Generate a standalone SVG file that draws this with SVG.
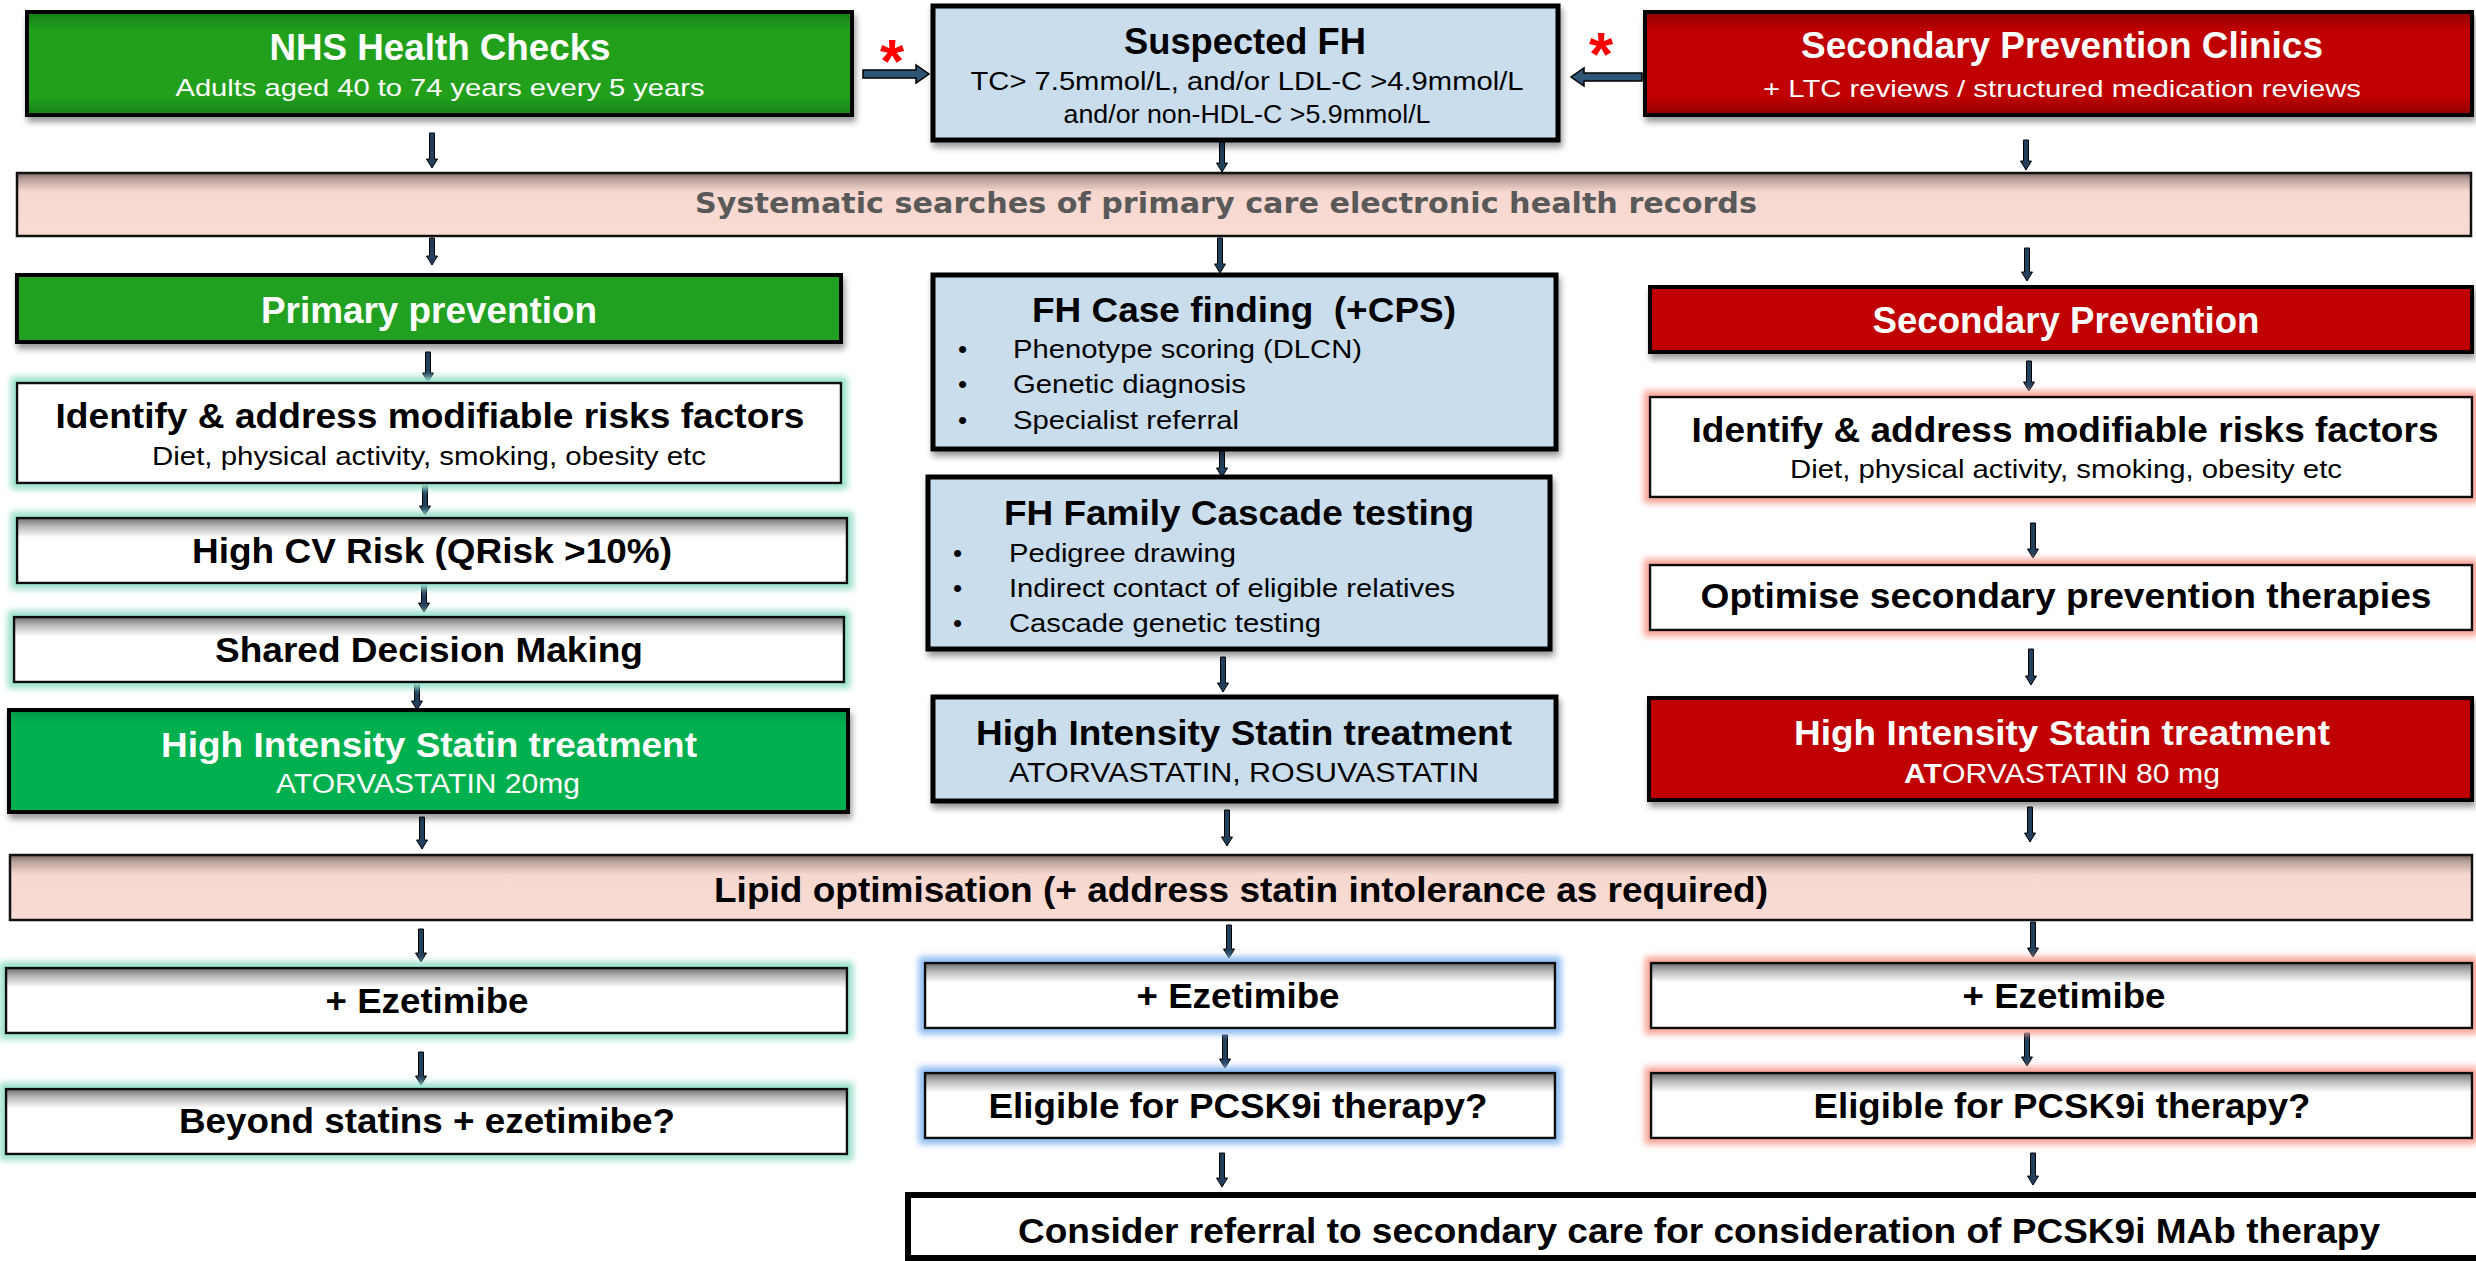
<svg xmlns="http://www.w3.org/2000/svg" width="2476" height="1261" viewBox="0 0 2476 1261">
<style>
.t{font-family:"Liberation Sans",Arial,sans-serif;text-anchor:middle}
.l{font-family:"Liberation Sans",Arial,sans-serif;text-anchor:start}
.b{font-weight:bold}
.w{fill:#fff}
.k{fill:#000}
.ttl{font-size:35px;font-weight:bold}
.sub{font-size:26px}
.sys{font-family:"DejaVu Sans",Verdana,sans-serif;font-weight:bold;font-size:29px;fill:#595959;text-anchor:middle}
.box{stroke:#000;stroke-width:4}
.wbox{stroke:#111;stroke-width:2.5}
.blue{fill:#C9DDED;stroke:#000;stroke-width:5}
.arr{fill:#22405E;stroke:#000;stroke-width:1}
.harr{fill:#2F5576;stroke:#000;stroke-width:1.5}
.ast{font-family:"Liberation Sans",Arial,sans-serif;font-weight:bold;font-size:62px;fill:#FF0000;text-anchor:middle}
</style>
<defs>
<filter id="ds" x="-5%" y="-20%" width="112%" height="150%">
<feDropShadow dx="2" dy="5" stdDeviation="3" flood-color="#000" flood-opacity="0.4"/>
</filter>
<filter id="gT" x="-5%" y="-40%" width="110%" height="180%">
<feMorphology in="SourceAlpha" operator="dilate" radius="5" result="d"/>
<feGaussianBlur in="d" stdDeviation="3" result="bl"/>
<feFlood flood-color="#96E0CB"/>
<feComposite in2="bl" operator="in" result="g"/>
<feMerge><feMergeNode in="g"/><feMergeNode in="SourceGraphic"/></feMerge>
</filter>
<filter id="gB" x="-5%" y="-40%" width="110%" height="180%">
<feMorphology in="SourceAlpha" operator="dilate" radius="5" result="d"/>
<feGaussianBlur in="d" stdDeviation="3" result="bl"/>
<feFlood flood-color="#8EBBF2"/>
<feComposite in2="bl" operator="in" result="g"/>
<feMerge><feMergeNode in="g"/><feMergeNode in="SourceGraphic"/></feMerge>
</filter>
<filter id="gR" x="-5%" y="-40%" width="110%" height="180%">
<feMorphology in="SourceAlpha" operator="dilate" radius="5" result="d"/>
<feGaussianBlur in="d" stdDeviation="3" result="bl"/>
<feFlood flood-color="#F8A397"/>
<feComposite in2="bl" operator="in" result="g"/>
<feMerge><feMergeNode in="g"/><feMergeNode in="SourceGraphic"/></feMerge>
</filter>
<linearGradient id="gNHS" x1="0" y1="0" x2="0" y2="1">
<stop offset="0" stop-color="#167C16"/><stop offset="0.18" stop-color="#21A01F"/><stop offset="0.82" stop-color="#21A01F"/><stop offset="1" stop-color="#178017"/>
</linearGradient>
<linearGradient id="gRed" x1="0" y1="0" x2="0" y2="1">
<stop offset="0" stop-color="#8E0000"/><stop offset="0.18" stop-color="#C00000"/><stop offset="0.82" stop-color="#C00000"/><stop offset="1" stop-color="#900000"/>
</linearGradient>
<linearGradient id="gTop" x1="0" y1="0" x2="0" y2="1">
<stop offset="0" stop-color="#6E6E6E"/><stop offset="0.12" stop-color="#B5B5B5"/><stop offset="0.3" stop-color="#FFFFFF"/><stop offset="1" stop-color="#FFFFFF"/>
</linearGradient>
<linearGradient id="gBand" x1="0" y1="0" x2="0" y2="1">
<stop offset="0" stop-color="#7D6A65"/><stop offset="0.1" stop-color="#B9A09A"/><stop offset="0.3" stop-color="#F7D8D0"/><stop offset="1" stop-color="#FADBD4"/>
</linearGradient>
<linearGradient id="gStat" x1="0" y1="0" x2="0" y2="1">
<stop offset="0" stop-color="#00964A"/><stop offset="0.15" stop-color="#00B050"/><stop offset="1" stop-color="#00B050"/>
</linearGradient>
</defs>
<rect width="2476" height="1261" fill="#fff"/>

<g id="connectors">
<polygon class="harr" points="863,70 916,70 916,65 929,74 916,83 916,78 863,78"/>
<polygon class="harr" points="1642,73 1584,73 1584,68 1571,77 1584,86 1584,81 1642,81"/>
<polygon class="arr" points="429.5,133 434.5,133 434.5,159 437.5,159 432,168 426.5,159 429.5,159"/>
<polygon class="arr" points="1219.5,140 1224.5,140 1224.5,163 1227.5,163 1222,172 1216.5,163 1219.5,163"/>
<polygon class="arr" points="2023.5,140 2028.5,140 2028.5,161 2031.5,161 2026,170 2020.5,161 2023.5,161"/>
<polygon class="arr" points="429.5,238 434.5,238 434.5,256 437.5,256 432,265 426.5,256 429.5,256"/>
<polygon class="arr" points="1217.5,238 1222.5,238 1222.5,264 1225.5,264 1220,273 1214.5,264 1217.5,264"/>
<polygon class="arr" points="2024.5,248 2029.5,248 2029.5,272 2032.5,272 2027,281 2021.5,272 2024.5,272"/>
<polygon class="arr" points="425.5,352 430.5,352 430.5,373 433.5,373 428,382 422.5,373 425.5,373"/>
<polygon class="arr" points="422.5,483 427.5,483 427.5,506 430.5,506 425,515 419.5,506 422.5,506"/>
<polygon class="arr" points="421.5,583 426.5,583 426.5,603 429.5,603 424,612 418.5,603 421.5,603"/>
<polygon class="arr" points="414.5,682 419.5,682 419.5,701 422.5,701 417,710 411.5,701 414.5,701"/>
<polygon class="arr" points="419.5,817 424.5,817 424.5,840 427.5,840 422,849 416.5,840 419.5,840"/>
<polygon class="arr" points="418.5,929 423.5,929 423.5,953 426.5,953 421,962 415.5,953 418.5,953"/>
<polygon class="arr" points="418.5,1052 423.5,1052 423.5,1076 426.5,1076 421,1085 415.5,1076 418.5,1076"/>
<polygon class="arr" points="1219.5,449 1224.5,449 1224.5,468 1227.5,468 1222,477 1216.5,468 1219.5,468"/>
<polygon class="arr" points="1220.5,657 1225.5,657 1225.5,683 1228.5,683 1223,692 1217.5,683 1220.5,683"/>
<polygon class="arr" points="1224.5,810 1229.5,810 1229.5,837 1232.5,837 1227,846 1221.5,837 1224.5,837"/>
<polygon class="arr" points="1226.5,925 1231.5,925 1231.5,949 1234.5,949 1229,958 1223.5,949 1226.5,949"/>
<polygon class="arr" points="1222.5,1035 1227.5,1035 1227.5,1059 1230.5,1059 1225,1068 1219.5,1059 1222.5,1059"/>
<polygon class="arr" points="1219.5,1153 1224.5,1153 1224.5,1178 1227.5,1178 1222,1187 1216.5,1178 1219.5,1178"/>
<polygon class="arr" points="2026.5,361 2031.5,361 2031.5,382 2034.5,382 2029,391 2023.5,382 2026.5,382"/>
<polygon class="arr" points="2030.5,523 2035.5,523 2035.5,549 2038.5,549 2033,558 2027.5,549 2030.5,549"/>
<polygon class="arr" points="2028.5,649 2033.5,649 2033.5,676 2036.5,676 2031,685 2025.5,676 2028.5,676"/>
<polygon class="arr" points="2027.5,807 2032.5,807 2032.5,833 2035.5,833 2030,842 2024.5,833 2027.5,833"/>
<polygon class="arr" points="2030.5,922 2035.5,922 2035.5,948 2038.5,948 2033,957 2027.5,948 2030.5,948"/>
<polygon class="arr" points="2024.5,1033 2029.5,1033 2029.5,1057 2032.5,1057 2027,1066 2021.5,1057 2024.5,1057"/>
<polygon class="arr" points="2030.5,1153 2035.5,1153 2035.5,1176 2038.5,1176 2033,1185 2027.5,1176 2030.5,1176"/>
</g>

<g id="asterisk-left"><text class="ast" x="892" y="82">*</text></g>
<g id="asterisk-right"><text class="ast" x="1601" y="75">*</text></g>

<g id="nhs-health-checks">
<rect class="box" x="27" y="12" width="825" height="103" fill="url(#gNHS)" filter="url(#ds)"/>
<text class="t b w" x="440" y="60" font-size="37" textLength="341" lengthAdjust="spacingAndGlyphs">NHS Health Checks</text>
<text class="t w" x="440" y="96" font-size="24" textLength="529" lengthAdjust="spacingAndGlyphs">Adults aged 40 to 74 years every 5 years</text>
</g>

<g id="suspected-fh">
<rect class="blue" x="933" y="6" width="625" height="134" filter="url(#ds)"/>
<text class="t b k" x="1245" y="54" font-size="37" textLength="242" lengthAdjust="spacingAndGlyphs">Suspected FH</text>
<text class="t k" x="1247" y="90" font-size="25" textLength="553" lengthAdjust="spacingAndGlyphs">TC&gt; 7.5mmol/L, and/or LDL-C &gt;4.9mmol/L</text>
<text class="t k" x="1247" y="123" font-size="25" textLength="367" lengthAdjust="spacingAndGlyphs">and/or non-HDL-C &gt;5.9mmol/L</text>
</g>

<g id="secondary-prevention-clinics">
<rect class="box" x="1645" y="12" width="827" height="103" fill="url(#gRed)" filter="url(#ds)"/>
<text class="t b w" x="2062" y="58" font-size="37" textLength="522" lengthAdjust="spacingAndGlyphs">Secondary Prevention Clinics</text>
<text class="t w" x="2062" y="97" font-size="24" textLength="598" lengthAdjust="spacingAndGlyphs">+ LTC reviews / structured medication reviews</text>
</g>

<g id="systematic-searches">
<rect x="17" y="173" width="2454" height="63" fill="url(#gBand)" stroke="#111" stroke-width="2.5"/>
<text class="sys" x="1226" y="213" textLength="1062" lengthAdjust="spacingAndGlyphs">Systematic searches of primary care electronic health records</text>
</g>

<g id="primary-prevention">
<rect class="box" x="17" y="275" width="824" height="67" fill="#22A022" filter="url(#ds)"/>
<text class="t b w" x="429" y="323" font-size="36" textLength="336" lengthAdjust="spacingAndGlyphs">Primary prevention</text>
</g>

<g id="identify-left">
<rect class="wbox" x="17" y="383" width="824" height="100" fill="#fff" filter="url(#gT)"/>
<text class="t ttl k" x="430" y="428" textLength="749" lengthAdjust="spacingAndGlyphs">Identify &amp; address modifiable risks factors</text>
<text class="t sub k" x="429" y="465" textLength="554" lengthAdjust="spacingAndGlyphs">Diet, physical activity, smoking, obesity etc</text>
</g>

<g id="high-cv-risk">
<rect class="wbox" x="17" y="518" width="830" height="65" fill="url(#gTop)" filter="url(#gT)"/>
<text class="t ttl k" x="432" y="563" textLength="480" lengthAdjust="spacingAndGlyphs">High CV Risk (QRisk &gt;10%)</text>
</g>

<g id="shared-decision">
<rect class="wbox" x="14" y="617" width="830" height="65" fill="url(#gTop)" filter="url(#gT)"/>
<text class="t ttl k" x="429" y="662" textLength="428" lengthAdjust="spacingAndGlyphs">Shared Decision Making</text>
</g>

<g id="statin-primary">
<rect class="box" x="9" y="710" width="839" height="102" fill="url(#gStat)" filter="url(#ds)"/>
<text class="t ttl w" x="429" y="757" textLength="536" lengthAdjust="spacingAndGlyphs">High Intensity Statin treatment</text>
<text class="t w" x="428" y="793" font-size="27" textLength="304" lengthAdjust="spacingAndGlyphs">ATORVASTATIN 20mg</text>
</g>

<g id="fh-case-finding">
<rect class="blue" x="933" y="275" width="623" height="174" filter="url(#ds)"/>
<text class="t ttl k" x="1244" y="322" textLength="424" lengthAdjust="spacingAndGlyphs" style="white-space:pre">FH Case finding  (+CPS)</text>
<text class="l k" x="958" y="358" font-size="26">•</text>
<text class="l k" x="1013" y="358" font-size="26" textLength="349" lengthAdjust="spacingAndGlyphs">Phenotype scoring (DLCN)</text>
<text class="l k" x="958" y="393" font-size="26">•</text>
<text class="l k" x="1013" y="393" font-size="26" textLength="233" lengthAdjust="spacingAndGlyphs">Genetic diagnosis</text>
<text class="l k" x="958" y="429" font-size="26">•</text>
<text class="l k" x="1013" y="429" font-size="26" textLength="226" lengthAdjust="spacingAndGlyphs">Specialist referral</text>
</g>

<g id="fh-cascade">
<rect class="blue" x="928" y="477" width="622" height="172" filter="url(#ds)"/>
<text class="t ttl k" x="1239" y="525" textLength="470" lengthAdjust="spacingAndGlyphs">FH Family Cascade testing</text>
<text class="l k" x="953" y="562" font-size="26">•</text>
<text class="l k" x="1009" y="562" font-size="26" textLength="227" lengthAdjust="spacingAndGlyphs">Pedigree drawing</text>
<text class="l k" x="953" y="597" font-size="26">•</text>
<text class="l k" x="1009" y="597" font-size="26" textLength="446" lengthAdjust="spacingAndGlyphs">Indirect contact of eligible relatives</text>
<text class="l k" x="953" y="632" font-size="26">•</text>
<text class="l k" x="1009" y="632" font-size="26" textLength="312" lengthAdjust="spacingAndGlyphs">Cascade genetic testing</text>
</g>

<g id="statin-fh">
<rect class="blue" x="933" y="697" width="623" height="104" filter="url(#ds)"/>
<text class="t ttl k" x="1244" y="745" textLength="536" lengthAdjust="spacingAndGlyphs">High Intensity Statin treatment</text>
<text class="t k" x="1244" y="782" font-size="27" textLength="470" lengthAdjust="spacingAndGlyphs">ATORVASTATIN, ROSUVASTATIN</text>
</g>

<g id="secondary-prevention">
<rect class="box" x="1650" y="287" width="822" height="65" fill="#C00000" filter="url(#ds)"/>
<text class="t b w" x="2066" y="333" font-size="36" textLength="387" lengthAdjust="spacingAndGlyphs">Secondary Prevention</text>
</g>

<g id="identify-right">
<rect class="wbox" x="1650" y="397" width="822" height="100" fill="#fff" filter="url(#gR)"/>
<text class="t ttl k" x="2065" y="442" textLength="747" lengthAdjust="spacingAndGlyphs">Identify &amp; address modifiable risks factors</text>
<text class="t sub k" x="2066" y="478" textLength="552" lengthAdjust="spacingAndGlyphs">Diet, physical activity, smoking, obesity etc</text>
</g>

<g id="optimise">
<rect class="wbox" x="1650" y="565" width="822" height="65" fill="#fff" filter="url(#gR)"/>
<text class="t ttl k" x="2066" y="608" textLength="731" lengthAdjust="spacingAndGlyphs">Optimise secondary prevention therapies</text>
</g>

<g id="statin-secondary">
<rect class="box" x="1649" y="698" width="823" height="102" fill="#C00000" filter="url(#ds)"/>
<text class="t ttl w" x="2062" y="745" textLength="536" lengthAdjust="spacingAndGlyphs">High Intensity Statin treatment</text>
<text class="t w" x="2062" y="783" font-size="27" textLength="316" lengthAdjust="spacingAndGlyphs"><tspan font-weight="bold">AT</tspan>ORVASTATIN 80 mg</text>
</g>

<g id="lipid-optimisation">
<rect x="10" y="855" width="2462" height="65" fill="url(#gBand)" stroke="#111" stroke-width="2.5"/>
<text class="t ttl k" x="1241" y="902" textLength="1054" lengthAdjust="spacingAndGlyphs">Lipid optimisation (+ address statin intolerance as required)</text>
</g>

<g id="ezetimibe-left">
<rect class="wbox" x="6" y="968" width="841" height="65" fill="url(#gTop)" filter="url(#gT)"/>
<text class="t ttl k" x="427" y="1013" textLength="203" lengthAdjust="spacingAndGlyphs">+ Ezetimibe</text>
</g>

<g id="beyond-statins">
<rect class="wbox" x="6" y="1089" width="841" height="65" fill="url(#gTop)" filter="url(#gT)"/>
<text class="t ttl k" x="427" y="1133" textLength="496" lengthAdjust="spacingAndGlyphs">Beyond statins + ezetimibe?</text>
</g>

<g id="ezetimibe-center">
<rect class="wbox" x="925" y="963" width="630" height="65" fill="url(#gTop)" filter="url(#gB)"/>
<text class="t ttl k" x="1238" y="1008" textLength="203" lengthAdjust="spacingAndGlyphs">+ Ezetimibe</text>
</g>

<g id="eligible-center">
<rect class="wbox" x="925" y="1073" width="630" height="65" fill="url(#gTop)" filter="url(#gB)"/>
<text class="t ttl k" x="1238" y="1118" textLength="499" lengthAdjust="spacingAndGlyphs">Eligible for PCSK9i therapy?</text>
</g>

<g id="ezetimibe-right">
<rect class="wbox" x="1651" y="963" width="821" height="65" fill="url(#gTop)" filter="url(#gR)"/>
<text class="t ttl k" x="2064" y="1008" textLength="203" lengthAdjust="spacingAndGlyphs">+ Ezetimibe</text>
</g>

<g id="eligible-right">
<rect class="wbox" x="1651" y="1073" width="821" height="65" fill="url(#gTop)" filter="url(#gR)"/>
<text class="t ttl k" x="2062" y="1118" textLength="497" lengthAdjust="spacingAndGlyphs">Eligible for PCSK9i therapy?</text>
</g>

<g id="consider-referral">
<rect x="908" y="1195" width="1580" height="63" fill="#fff" stroke="#000" stroke-width="6"/>
<text class="t ttl k" x="1699" y="1243" textLength="1362" lengthAdjust="spacingAndGlyphs">Consider referral to secondary care for consideration of PCSK9i MAb therapy</text>
</g>
</svg>
